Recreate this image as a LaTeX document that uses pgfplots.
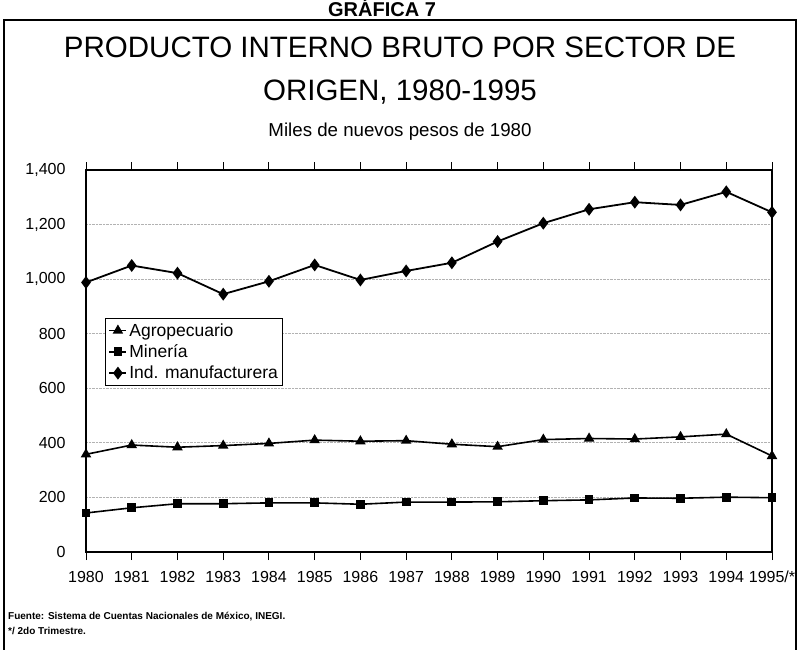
\documentclass[border=0pt]{standalone}
\usepackage{fontspec}
\setmainfont{Liberation Sans}
\usepackage{pgfplots}
\pgfplotsset{compat=1.18}
\begin{document}
\begin{tikzpicture}[x=1pt,y=1pt]
\useasboundingbox (0,0) rectangle (800,649);
\draw[line width=1.6pt] (4,-5) -- (4,629) -- (796,629) -- (796,-5);
\node[font=\bfseries\fontsize{20}{24}\selectfont, anchor=base, inner sep=0pt] at (382,632) {GRÁFICA 7};
\node[font=\fontsize{29.5}{32}\selectfont, anchor=base, inner sep=0pt] at (400,591) {PRODUCTO INTERNO BRUTO POR SECTOR DE};
\node[font=\fontsize{29.5}{32}\selectfont, anchor=base, inner sep=0pt] at (400,548) {ORIGEN, 1980-1995};
\node[font=\fontsize{18.7}{20}\selectfont, anchor=base, inner sep=0pt] at (400,512) {Miles de nuevos pesos de 1980};
\node[font=\bfseries\fontsize{10}{12}\selectfont, anchor=base west, inner sep=0pt] at (8,30) {Fuente: Sistema de Cuentas Nacionales de México, INEGI.};
\node[font=\bfseries\fontsize{10}{12}\selectfont, anchor=base west, inner sep=0pt] at (8,15) {*/ 2do Trimestre.};
\begin{axis}[
  at={(86pt,97pt)}, anchor=south west,
  width=686pt, height=382pt, scale only axis,
  xmin=1980, xmax=1995, ymin=0, ymax=1400,
  clip=false,
  xtick={1980,1981,...,1995},
  xticklabels={1980,1981,1982,1983,1984,1985,1986,1987,1988,1989,1990,1991,1992,1993,1994,1995/*},
  ytick={0,200,...,1400},
  /pgf/number format/assume math mode=true,
  /pgf/number format/1000 sep={,},
  tick label style={font=\fontsize{16}{18}\selectfont},
  yticklabel style={font=\fontsize{16}{18}\selectfont, xshift=-9pt},
  xticklabel style={yshift=-7pt, text height=11.5pt, text depth=1pt},
  tick align=outside,
  major tick length=8pt,
  xtick style={black, line width=1pt},
  ytick style={draw=none},
  ymajorgrids,
  grid style={densely dotted, gray!60, line width=1pt},
  axis line style={line width=1.3pt},
  legend style={at={(0.0277,0.6126)}, anchor=north west, draw=black, line width=1pt,
    font=\fontsize{17.5}{19}\selectfont, row sep=3pt, inner sep=3pt, cells={anchor=west}},
  legend cell align=left,
]
\addplot[black, line width=1.6pt, mark=triangle*, mark size=4.5pt, mark options={solid}] coordinates {
(1980,358) (1981,392) (1982,384) (1983,390) (1984,398) (1985,410) (1986,406) (1987,408)
(1988,395) (1989,386) (1990,412) (1991,416) (1992,414) (1993,422) (1994,432) (1995,352)};
\addlegendentry{Agropecuario}
\addplot[black, line width=1.6pt, mark=square*, mark size=3.6pt, mark options={solid, rounded corners=1.5pt}] coordinates {
(1980,143) (1981,162) (1982,177) (1983,177) (1984,180) (1985,180) (1986,175) (1987,183)
(1988,183) (1989,184) (1990,188) (1991,191) (1992,198) (1993,197) (1994,201) (1995,199)};
\addlegendentry{Minería}
\addplot[black, line width=1.8pt, mark=diamond*, mark size=5pt, mark options={solid}] coordinates {
(1980,988) (1981,1050) (1982,1022) (1983,945) (1984,992) (1985,1052) (1986,997) (1987,1030)
(1988,1060) (1989,1138) (1990,1205) (1991,1256) (1992,1282) (1993,1272) (1994,1320) (1995,1245)};
\addlegendentry{Ind. manufacturera}
\end{axis}
\end{tikzpicture}
\end{document}
